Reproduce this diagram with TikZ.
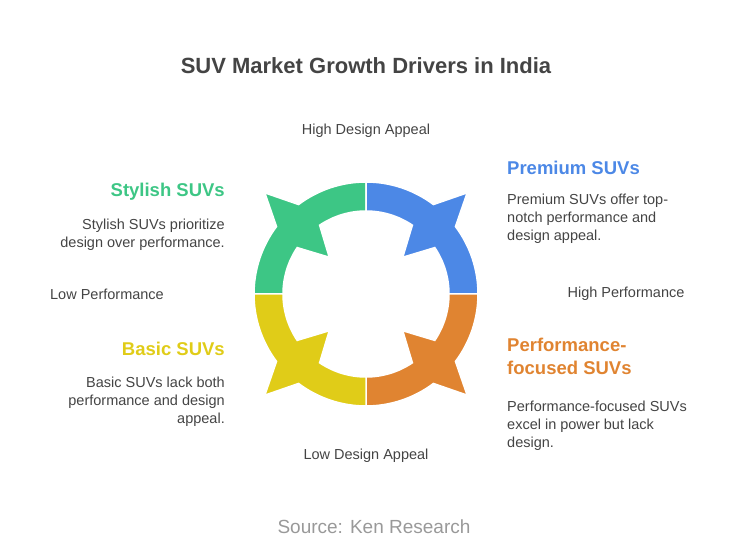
\documentclass[tikz,border=0pt]{standalone}
\usepackage{fontspec}
\setmainfont{Liberation Sans}
\usetikzlibrary{positioning}
\definecolor{cgreen}{HTML}{3DC685}
\definecolor{cblue}{HTML}{4C88E6}
\definecolor{corange}{HTML}{E08431}
\definecolor{cyellow}{HTML}{E0CC18}
\definecolor{ctext}{HTML}{444444}
\tikzset{
  head/.style={font=\fontsize{18.5}{23}\selectfont\bfseries},
  desc/.style={font=\fontsize{14.5}{18}\selectfont, text=ctext, inner sep=0pt},
  axis/.style={font=\fontsize{14.5}{16}\selectfont, text=ctext},
}
\begin{document}
\begin{tikzpicture}[x=1pt,y=1pt]
    \useasboundingbox (0,0) rectangle (732,552);
    \coordinate (c) at (366,258);

    % the four quadrants of the ring
    \foreach \a/\col in {135/cgreen, 45/cblue, -45/corange, -135/cyellow}{
      \fill[\col, draw=white, line width=1.5pt, shift={(c)}]
      (\a+45:83) -- (\a+45:112) arc[start angle=\a+45, end angle=\a+8, radius=112]
      -- (\a:143) -- (\a-8:112) arc[start angle=\a-8, end angle=\a-45, radius=112]
      -- (\a-45:83) arc[start angle=\a-45, end angle=\a-11, radius=83]
      -- (\a:52) -- (\a+11:83) arc[start angle=\a+11, end angle=\a+45, radius=83]
      -- cycle;
    }

    \node[font=\fontsize{22}{26}\selectfont\bfseries, text=ctext] (title) at (366,486) {SUV Market Growth Drivers in India};

    \node[axis] (hda) at (366,421) {High Design Appeal};
    \node[axis] (lda) at (366,96) {Low Design Appeal};
    \node[axis] (lp) at (107,258) {Low Performance};
    \node[axis] (hp) at (626,258) {High Performance};

    \node[head, text=cgreen, anchor=east, inner sep=0pt] (stylish) at (225,360) {Stylish SUVs};
    \node[desc, anchor=north east, align=right] (stylishd) at (225,333) {Stylish SUVs prioritize\\design over performance.};

    \node[head, text=cblue, anchor=west, inner sep=0pt] (premium) at (507,384) {Premium SUVs};
    \node[desc, anchor=north west, align=left] (premiumd) at (507,358) {Premium SUVs offer top-\\notch performance and\\design appeal.};

    \node[head, text=cyellow, anchor=east, inner sep=0pt] (basic) at (225,203) {Basic SUVs};
    \node[desc, anchor=north east, align=right] (basicd) at (225,175) {Basic SUVs lack both\\performance and design\\appeal.};

    \node[head, text=corange, anchor=north west, align=left, inner sep=0pt] (perf) at (507,214) {Performance-\\focused SUVs};
    \node[desc, anchor=north west, align=left] (perfd) at (507,151) {Performance-focused SUVs\\excel in power but lack\\design.};

    \node[font=\fontsize{19}{22}\selectfont, text=gray!80] (src) at (374,25) {Source: Ken Research};
\end{tikzpicture}
\end{document}
